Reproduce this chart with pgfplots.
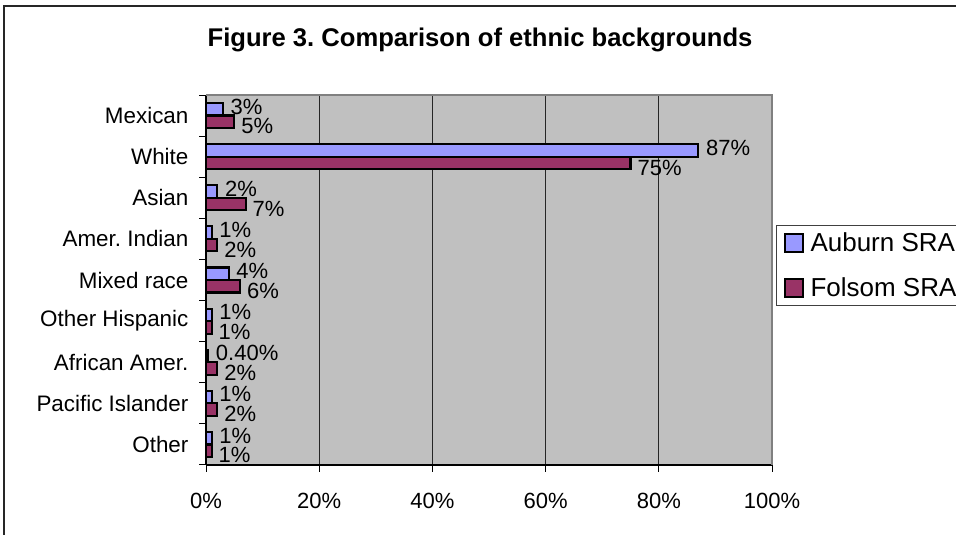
\documentclass[border=0pt]{standalone}
\usepackage{fontspec}
\setmainfont{Liberation Sans}
\usepackage{pgfplots}
\pgfplotsset{compat=1.18}
\definecolor{auburn}{HTML}{9999FF}
\definecolor{folsom}{HTML}{993366}
\definecolor{plotgray}{HTML}{C0C0C0}
\definecolor{framegray}{HTML}{808080}
\frenchspacing

\begin{document}
\begin{tikzpicture}
\path[use as bounding box] (0pt,0pt) rectangle (717pt,401.25pt);
\clip (0pt,0pt) rectangle (717pt,401.25pt);
% outer chart frame (runs off the right and bottom edges)
\draw[black!85, line width=1.2pt] (3pt,-8pt) -- (3pt,396.75pt) -- (735pt,396.75pt);
\node[font=\bfseries\fontsize{19.2}{23}\selectfont] at (360pt,371.25pt) {Figure 3. Comparison of ethnic backgrounds};
\begin{axis}[
  at={(154.5pt,52.5pt)}, anchor=south west,
  width=424.5pt, height=277.5pt, scale only axis,
  xbar, bar width=9.4pt,
  xmin=0, xmax=100, ymin=-0.5, ymax=8.5,
  clip=false,
  axis background/.style={fill=plotgray},
  axis x line*=bottom, axis y line*=left,
  axis line style={-, black, line width=0.9pt},
  tick align=outside,
  tick style={black, line width=0.75pt},
  major tick length=5pt,
  xtick={0,20,40,60,80,100},
  xticklabels={0\%,20\%,40\%,60\%,80\%,100\%},
  xticklabel style={font=\fontsize{16.5}{19.8}\selectfont, inner sep=0pt, anchor=north, yshift=-15.75pt},
  xmajorgrids,
  major x grid style={black!85, line width=0.75pt},
  % tick marks sit on the category boundaries
  ytick={-0.5,0.5,1.5,2.5,3.5,4.5,5.5,6.5,7.5,8.5},
  yticklabels={},
  % category names sit at the category centres, without tick marks
  extra y ticks={0,...,8},
  extra y tick labels={Other,Pacific Islander,African Amer.,Other Hispanic,Mixed race,Amer. Indian,Asian,White,Mexican},
  extra y tick style={major tick length=0pt, grid=none},
  yticklabel style={font=\fontsize{16.8}{20}\selectfont, inner sep=0pt, anchor=east, xshift=-13pt},
  point meta=explicit symbolic,
  nodes near coords,
  nodes near coords align={horizontal},
  every node near coord/.append style={font=\fontsize{16.5}{19.8}\selectfont, inner sep=0pt, anchor=west},
  legend style={at={(axis description cs:1.0071,0.6486)}, anchor=north west,
    draw=black!75, line width=0.75pt, fill=white,
    font=\fontsize{19.5}{23}\selectfont,
    inner xsep=5.5pt, inner ysep=5.5pt, row sep=18pt,
    nodes={inner sep=0pt},
    /tikz/every odd column/.append style={column sep=5pt}},
  legend cell align=left,
  legend image code/.code={\draw[#1, line width=1.5pt] (0pt,-6.75pt) rectangle (13.5pt,6.75pt);},
  after end axis/.code={\draw[framegray, line width=1.5pt] (rel axis cs:0,1) -- (rel axis cs:1,1) -- (rel axis cs:1,0);},
]
% Auburn SRA (upper bar of each pair)
\addplot[fill=auburn, draw=black, line width=1.6pt, bar shift=4.7pt,
  every node near coord/.append style={xshift=5pt, yshift=2pt}]
  coordinates {
  (1,0) [1\%]
  (1,1) [1\%]
  (0.4,2) [0.40\%]
  (1,3) [1\%]
  (4,4) [4\%]
  (1,5) [1\%]
  (2,6) [2\%]
  (87,7) [87\%]
  (3,8) [3\%]
};
% Folsom SRA (lower bar of each pair)
\addplot[fill=folsom, draw=black, line width=1.6pt, bar shift=-4.7pt,
  every node near coord/.append style={xshift=4.5pt, yshift=-3.4pt}]
  coordinates {
  (1,0) [1\%]
  (2,1) [2\%]
  (2,2) [2\%]
  (1,3) [1\%]
  (6,4) [6\%]
  (2,5) [2\%]
  (7,6) [7\%]
  (75,7) [75\%]
  (5,8) [5\%]
};
\legend{Auburn SRA, Folsom SRA}
\end{axis}
\end{tikzpicture}
\end{document}
